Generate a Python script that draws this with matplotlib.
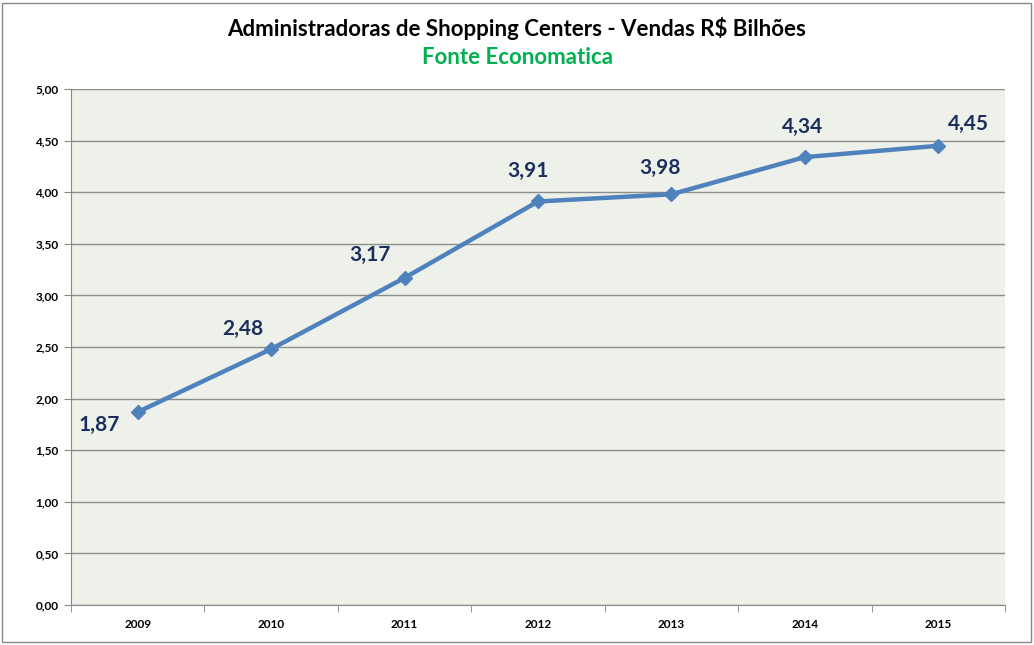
import matplotlib
matplotlib.use("Agg")
import matplotlib.pyplot as plt
from matplotlib.patches import Rectangle

years = ["2009", "2010", "2011", "2012", "2013", "2014", "2015"]
vendas = [1.87, 2.48, 3.17, 3.91, 3.98, 4.34, 4.45]
yticks = [0.0, 0.5, 1.0, 1.5, 2.0, 2.5, 3.0, 3.5, 4.0, 4.5, 5.0]
label_offsets = [(-38, -13), (-28, 20), (-35, 23), (-10, 31), (-11, 26), (-2, 30), (30, 22)]

plt.rcParams['font.family'] = ['Lato', 'DejaVu Sans']

fig = plt.figure(figsize=(10.34, 6.45), dpi=100)
ax = fig.add_axes([71/1034, 1-605/645, (1005-71)/1034, (605-89)/645])
ax.set_facecolor('#EEF1E9')

x = list(range(len(years)))
ax.plot(x, vendas, color='#4F81BD', lw=3.2, marker='D', markersize=7, zorder=3)

for xi, v, (dx, dy) in zip(x, vendas, label_offsets):
    ax.annotate(f"{v:.2f}".replace('.', ','), (xi, v), xytext=(dx, dy),
                textcoords='offset pixels', ha='center', va='center',
                fontsize=15, fontweight='bold', color='#1A2F5E')

ax.set_xlim(-0.5, len(years) - 0.5)
ax.set_ylim(0, 5)
ax.set_yticks(yticks)
ax.set_yticklabels([f"{t:.2f}".replace('.', ',') for t in yticks], fontsize=8.5, fontweight='bold')
ax.set_xticks(x)
ax.set_xticklabels(years, fontsize=8.5, fontweight='bold')
ax.set_xticks([i - 0.5 for i in range(len(years) + 1)], minor=True)
ax.tick_params(axis='x', which='major', length=0, pad=10)
ax.tick_params(axis='x', which='minor', length=5, color='#888888', direction='out')
ax.tick_params(axis='y', length=5, color='#888888', pad=4)
ax.grid(axis='y', color='#8C8C8C', lw=1)
ax.set_axisbelow(True)
for s in ['top', 'right']:
    ax.spines[s].set_visible(False)
for s in ['left', 'bottom']:
    ax.spines[s].set_color('#888888')

fig.text(0.5, 1-28/645, "Administradoras de Shopping Centers - Vendas R$ Bilhões",
         ha='center', va='center', fontsize=16, fontweight='bold', color='black')
fig.text(0.5, 1-58/645, "Fonte Economatica", ha='center', va='center',
         fontsize=16, fontweight='bold', color='#00B050')

fig.patches.append(Rectangle((2/1034, 3/645), 1029/1034, 639/645, transform=fig.transFigure,
                             fill=False, edgecolor='#888888', lw=1))

fig.savefig('out.png', dpi=100)
